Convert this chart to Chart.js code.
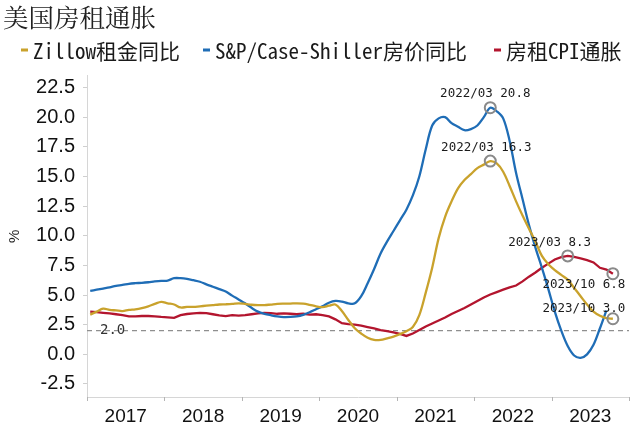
<!DOCTYPE html>
<html><head><meta charset="utf-8">
<script src="https://cdn.jsdelivr.net/npm/chart.js@4.4.1/dist/chart.umd.min.js"></script>
<style>html,body{margin:0;padding:0;background:#fff}</style>
</head><body>
<canvas id="c" width="640" height="435"></canvas>
<script>
// ---------- data ----------
const startYear = 2017;
const years = ['2017','2018','2019','2020','2021','2022','2023'];
const yTicks = [-2.5, 0, 2.5, 5, 7.5, 10, 12.5, 15, 17.5, 20, 22.5];
const seriesNames = ['Zillow租金同比', 'S&P/Case-Shiller房价同比', '房租CPI通胀'];
// monthly, starting 2017/01
const zillow = [3.35,3.6,3.85,3.75,3.7,3.65,3.75,3.8,3.9,4.05,4.25,4.42,
  4.3,4.2,3.95,4.0,4.0,4.05,4.1,4.15,4.2,4.22,4.25,4.3,
  4.25,4.18,4.15,4.15,4.2,4.25,4.27,4.28,4.3,4.28,4.18,4.05,
  3.98,4.1,4.2,3.65,2.9,2.2,1.75,1.4,1.22,1.22,1.35,1.5,
  1.7,1.95,2.3,3.3,5.2,7.3,9.8,11.6,12.9,14.0,14.7,15.2,
  15.7,16.0,16.3,16.1,15.4,14.2,12.9,11.7,10.6,9.5,8.3,7.6,
  7.1,6.7,6.3,5.6,4.9,4.2,3.6,3.25,3.05,3.0];
const caseShiller = [5.35,5.45,5.55,5.65,5.78,5.85,5.95,6.0,6.03,6.08,6.15,6.2,
  6.22,6.42,6.42,6.36,6.25,6.12,5.9,5.7,5.5,5.3,4.95,4.63,
  4.3,3.92,3.6,3.42,3.3,3.2,3.14,3.15,3.2,3.33,3.55,3.8,
  4.05,4.35,4.5,4.45,4.3,4.3,4.9,6.0,7.2,8.5,9.5,10.4,
  11.3,12.2,13.4,15.0,17.3,19.3,19.9,20.0,19.5,19.2,18.9,19.0,
  19.3,20.0,20.8,20.5,19.9,18.0,15.3,13.1,10.9,9.0,7.3,5.5,
  3.6,2.0,0.7,-0.1,-0.3,0.0,0.8,2.2,3.7];
const rentCpi = [3.6,3.55,3.5,3.45,3.38,3.3,3.2,3.2,3.23,3.23,3.2,3.15,
  3.12,3.08,3.3,3.4,3.45,3.5,3.47,3.38,3.28,3.22,3.3,3.27,
  3.3,3.38,3.45,3.5,3.48,3.42,3.45,3.42,3.38,3.42,3.35,3.38,
  3.3,3.2,2.95,2.62,2.55,2.5,2.42,2.3,2.18,2.05,1.95,1.85,
  1.72,1.55,1.75,2.05,2.35,2.6,2.85,3.1,3.4,3.65,3.9,4.2,
  4.5,4.8,5.05,5.25,5.45,5.65,5.8,6.15,6.55,6.9,7.3,7.65,
  8.0,8.2,8.3,8.22,8.1,7.95,7.75,7.3,7.15,6.8];
const refLevel = 2.0;
// annotations
const annSeries = [1, 0, 2, 2, 0];
const annDates = ['2022/03', '2022/03', '2023/03', '2023/10', '2023/10'];
const annValues = [20.8, 16.3, 8.3, 6.8, 3.0];

// ---------- styles ----------
const colors = ['#C9A22C', '#1F6DB6', '#B3152E'];
const annOffsets = [[-5,-14],[-4,-13],[-18,-13],[-29,11],[-29,-10]];
const legendX = [21, 203, 494];
const legendW = [151, 260, 117];
const monoFont = "'DejaVu Sans Mono', 'Noto Sans CJK SC', monospace";
const legendFont = "'Noto Sans Mono CJK SC', 'DejaVu Sans Mono', 'Noto Sans CJK SC', monospace";

const monthPos = d => { const [y, m] = d.split('/').map(Number); return (y - startYear) * 12 + (m - 1) + 0.5; };
const toXY = arr => arr.map((v, i) => ({x: i + 0.5, y: v}));

const seriesData = [zillow, caseShiller, rentCpi];
const datasets = seriesData.map((arr, k) => ({
  label: seriesNames[k],
  data: toXY(arr),
  borderColor: colors[k],
  backgroundColor: colors[k],
  borderWidth: 2.3,
  pointRadius: 0,
  tension: k === 2 ? 0 : 0.35,
  order: 1
}));
datasets.push({
  label: 'ann',
  data: annDates.map((d, i) => ({x: monthPos(d), y: annValues[i]})),
  showLine: false,
  pointRadius: 5.5,
  pointBorderWidth: 2,
  pointBorderColor: '#8a8a8a',
  pointBackgroundColor: 'rgba(0,0,0,0)',
  order: 0
});

const decor = {
  id: 'decor',
  beforeDatasetsDraw(chart) {
    const {ctx, chartArea: a, scales: {y}} = chart;
    ctx.save();
    const py = y.getPixelForValue(refLevel);
    ctx.strokeStyle = '#8f8f8f';
    ctx.lineWidth = 1.2;
    ctx.setLineDash([5, 4]);
    ctx.beginPath(); ctx.moveTo(a.left, py); ctx.lineTo(a.right, py); ctx.stroke();
    ctx.setLineDash([]);
    ctx.restore();
  },
  afterDatasetsDraw(chart) {
    const {ctx, chartArea: a, scales: {x, y}} = chart;
    ctx.save();
    // year boundary ticks
    ctx.strokeStyle = '#b5b5b5';
    ctx.lineWidth = 1;
    for (let i = 0; i <= years.length; i++) {
      const px = Math.round(x.getPixelForValue(i * 12)) + 0.5;
      ctx.beginPath(); ctx.moveTo(px, a.bottom); ctx.lineTo(px, a.bottom + 4); ctx.stroke();
    }
    // ref label
    ctx.fillStyle = '#333';
    ctx.font = "14px " + monoFont;
    ctx.textAlign = 'left'; ctx.textBaseline = 'middle';
    ctx.fillText(refLevel.toFixed(1), a.left + 13, y.getPixelForValue(refLevel));
    // annotation labels
    ctx.font = "12.5px " + monoFont;
    ctx.textAlign = 'center';
    ctx.fillStyle = '#1a1a1a';
    annDates.forEach((d, i) => {
      const px = x.getPixelForValue(monthPos(d));
      const pyy = y.getPixelForValue(annValues[i]);
      ctx.fillText(d + ' ' + annValues[i].toFixed(1), px + annOffsets[i][0], pyy + annOffsets[i][1]);
    });
    // legend
    ctx.font = "21px " + legendFont;
    ctx.textAlign = 'left';
    const ly = 51;
    chart.data.datasets.slice(0, 3).forEach((ds, i) => {
      const lx = legendX[i];
      ctx.fillStyle = ds.borderColor;
      ctx.fillRect(lx, ly - 2.5, 7, 3);
      ctx.fillStyle = '#1a1a1a';
      ctx.fillText(ds.label, lx + 12, ly, legendW[i]);
    });
    ctx.restore();
  }
};

new Chart(document.getElementById('c'), {
  type: 'line',
  data: {datasets},
  options: {
    responsive: false,
    animation: false,
    devicePixelRatio: 1,
    layout: {padding: {left: 3, right: 11, top: 0, bottom: 0}},
    plugins: {
      legend: {display: false},
      tooltip: {enabled: false},
      title: {
        display: true, text: '美国房租通胀', align: 'start', color: '#222',
        font: {family: "'Noto Serif CJK SC', 'Noto Sans CJK SC'", size: 25.5, weight: 'normal'},
        padding: {top: 2.2, bottom: 42.9}
      }
    },
    scales: {
      x: {
        type: 'linear', min: 0, max: years.length * 12,
        afterBuildTicks: s => { s.ticks = years.map((_, i) => ({value: i * 12 + 6})); },
        afterFit: s => { s.height = 38; },
        grid: {display: false, drawTicks: false},
        border: {display: true, color: '#d6d6d6', width: 1},
        ticks: {
          autoSkip: false, maxRotation: 0, padding: 8, color: '#111',
          font: {family: "'Liberation Sans', Arial, sans-serif", size: 19},
          callback: (v, i) => years[i]
        }
      },
      y: {
        min: -3.6, max: 23.5,
        afterBuildTicks: s => { s.ticks = yTicks.map(v => ({value: v})); },
        afterFit: s => { s.width = 84; },
        grid: {display: true, drawOnChartArea: false, drawTicks: true, tickLength: 4, color: '#cfcfcf'},
        border: {display: true, color: '#d6d6d6', width: 1},
        ticks: {
          padding: 8, color: '#111',
          font: {family: "'Liberation Sans', Arial, sans-serif", size: 20},
          callback: v => v.toFixed(1)
        },
        title: {
          display: true, text: '%', color: '#222', padding: {top: 3, bottom: 4},
          font: {family: "'Liberation Sans', Arial, sans-serif", size: 15}
        }
      }
    }
  },
  plugins: [decor]
});
</script>
</body></html>
